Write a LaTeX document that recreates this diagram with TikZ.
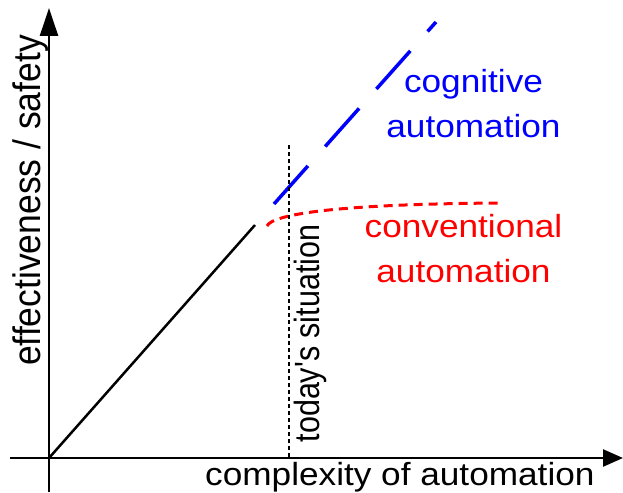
\documentclass[tikz,border=0pt]{standalone}
\usepackage{fontspec}
\setmainfont{Liberation Sans}[Ligatures=TeXOff]
\usetikzlibrary{arrows.meta}
\definecolor{cogblue}{RGB}{0,0,255}
\definecolor{convred}{RGB}{255,0,0}
\tikzset{
  axisline/.style={line width=2.5pt},
  hlabel/.style={inner sep=0pt, anchor=base, font=\fontsize{32}{38}\selectfont},
  vlabel/.style={inner sep=0pt, anchor=base, rotate=90},
  cogline/.style={cogblue, line width=3.5pt, dash pattern=on 51pt off 26pt},
  convline/.style={convred, line width=3pt, dash pattern=on 9pt off 6pt},
  nowline/.style={line width=1.2pt, dash pattern=on 4pt off 3pt},
}
\newcommand{\hs}[1]{\scalebox{1.1}[1]{#1}}
\begin{document}
\begin{tikzpicture}[x=1pt, y=-1pt]
  \useasboundingbox (0,0) rectangle (623,492);
  % axes
  \coordinate (ybot) at (49,492);
  \coordinate (ytop) at (49,8);
  \coordinate (xleft) at (10,458);
  \coordinate (xright) at (623,458);
  \coordinate (origin) at (49,458);
  \draw[axisline, -{Triangle[length=28pt,width=18pt]}] (ybot) -- (ytop);
  \draw[axisline, -{Triangle[length=20pt,width=17pt]}] (xleft) -- (xright);
  % curves
  \coordinate (lineend) at (255,225);
  \draw[line width=2.5pt] (origin) -- (lineend);
  \coordinate (cogstart) at (274,204);
  \coordinate (cogend) at (436,22);
  \draw[cogline] (cogstart) -- (cogend);
  \coordinate (convstart) at (267,226);
  \coordinate (convend) at (503,203);
  \draw[convline] (convstart) .. controls (272,215) and (330,204) .. (convend);
  \coordinate (nowtop) at (289,145);
  \coordinate (nowbot) at (289,458);
  \draw[nowline] (nowtop) -- (nowbot);
  % labels
  \node[hlabel, anchor=base west] (xlab) at (205,485) {\hs{complexity of automation}};
  \node[vlabel, font=\fontsize{35.5}{40}\selectfont] (ylab) at (40,200.5) {\scalebox{1}[1.08]{effectiveness / safety}};
  \node[vlabel, font=\fontsize{30.5}{36}\selectfont] (today) at (319,333.5) {\scalebox{1}[1.15]{today's situation}};
  \node[hlabel, text=cogblue] (cog1) at (473.5,93) {\hs{cognitive}};
  \node[hlabel, text=cogblue] (cog2) at (473.5,137) {\hs{automation}};
  \node[hlabel, text=convred] (conv1) at (463.5,237) {\hs{conventional}};
  \node[hlabel, text=convred] (conv2) at (463.5,282) {\hs{automation}};
\end{tikzpicture}
\end{document}
